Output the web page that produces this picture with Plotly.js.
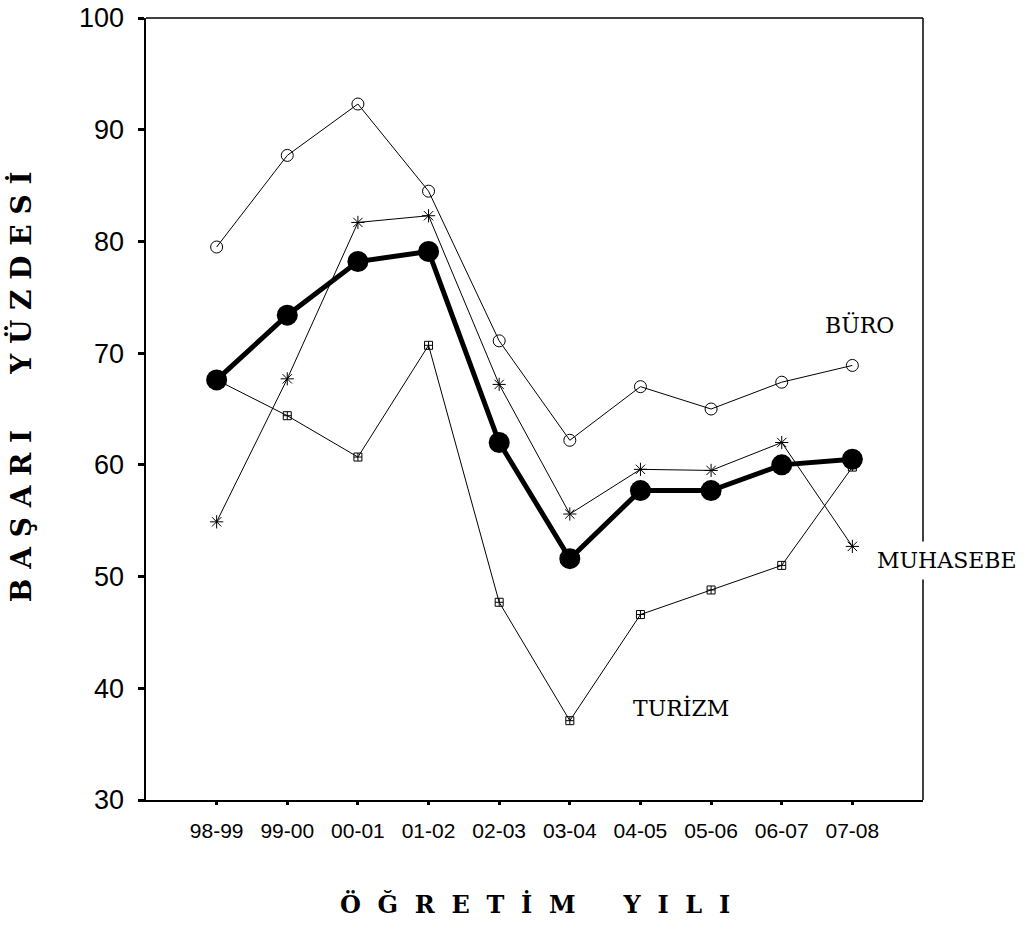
<!DOCTYPE html>
<html>
<head>
<meta charset="utf-8">
<script src="https://cdn.plot.ly/plotly-3.0.1.min.js"></script>
<style>html,body{margin:0;padding:0;background:#fff;}#chart{width:1027px;height:941px;}</style>
</head>
<body>
<div id="chart"></div>
<script>
const years = ["98-99","99-00","00-01","01-02","02-03","03-04","04-05","05-06","06-07","07-08"];
const buro = [79.5, 87.7, 92.3, 84.5, 71.1, 62.2, 67.0, 65.0, 67.4, 68.9];
const muhasebe = [54.9, 67.7, 81.7, 82.3, 67.2, 55.6, 59.6, 59.5, 62.0, 52.7];
const turizm = [67.6, 64.4, 60.7, 70.7, 47.7, 37.1, 46.6, 48.8, 51.0, 59.8];
const genel = [67.6, 73.4, 78.2, 79.1, 62.0, 51.6, 57.7, 57.7, 60.0, 60.5];
const yTicks = [30, 40, 50, 60, 70, 80, 90, 100];

const thin = {color: "#000", width: 1};
const traces = [
  {x: years, y: buro, name: "BÜRO", type: "scatter", mode: "lines+markers",
   line: thin, marker: {symbol: "circle-open", size: 12, color: "#000", line: {width: 1, color: "#000"}}},
  {x: years, y: muhasebe, name: "MUHASEBE", type: "scatter", mode: "lines+markers",
   line: thin, marker: {symbol: "asterisk-open", size: 11, color: "#000", line: {width: 1, color: "#000"}}},
  {x: years, y: turizm, name: "TURİZM", type: "scatter", mode: "lines+markers",
   line: thin, marker: {symbol: "square-cross-open", size: 8, color: "#000", line: {width: 1, color: "#000"}}},
  {x: years, y: genel, name: "GENEL", type: "scatter", mode: "lines+markers",
   line: {color: "#000", width: 5}, marker: {symbol: "circle", size: 21, color: "#000"}}
];

const EM = "\u2003", NB = "\u00A0";
const yTitle = "BAŞARI".split("").join(NB) + EM + EM + "YÜZDESİ".split("").join(NB);
const xTitle = "ÖĞRETİM".split("").join(NB + NB) + EM + EM + "YILI".split("").join(NB + NB);

const serif = "DejaVu Serif, Liberation Serif, serif";
const layout = {
  width: 1027, height: 941,
  margin: {l: 146, r: 104, t: 18, b: 141},
  paper_bgcolor: "#fff", plot_bgcolor: "#fff",
  showlegend: false,
  xaxis: {
    type: "category", range: [-1, 10], showgrid: false, zeroline: false,
    showline: true, linecolor: "#000", linewidth: 2,
    ticks: "outside", ticklen: 3, tickwidth: 3, tickcolor: "#000",
    ticklabelstandoff: 8,
    tickfont: {family: "Liberation Sans Narrow, Arial Narrow, Liberation Sans, sans-serif", size: 21, color: "#000"}
  },
  yaxis: {
    range: [30, 100], tickvals: yTicks, showgrid: false, zeroline: false,
    showline: true, linecolor: "#000", linewidth: 2.5,
    ticks: "outside", ticklen: 6, tickwidth: 3, tickcolor: "#000",
    ticklabelstandoff: 8,
    tickfont: {family: "Liberation Sans, Arial, sans-serif", size: 27, color: "#000"}
  },
  shapes: [
    {type: "line", xref: "paper", yref: "paper", x0: 0, x1: 1, y0: 1, y1: 1, line: {color: "#000", width: 1.5}},
    {type: "line", xref: "paper", yref: "paper", x0: 1, x1: 1, y0: 0, y1: 1, line: {color: "#000", width: 1.5}}
  ],
  annotations: [
    {text: "BÜRO", xref: "x", yref: "y", x: 9.1, y: 72.5, showarrow: false,
     font: {family: serif, size: 22, color: "#000"}},
    {text: "MUHASEBE", xref: "x", yref: "y", x: 9.256, y: 51.4, xanchor: "left", yanchor: "middle", showarrow: false,
     bgcolor: "#fff", borderpad: 6,
     font: {family: serif, size: 22, color: "#000"}},
    {text: "TURİZM", xref: "x", yref: "y", x: 6.58, y: 38.2, showarrow: false,
     font: {family: serif, size: 22, color: "#000"}},
    {text: yTitle, xref: "paper", yref: "paper", x: -0.161, y: 0.529, xanchor: "center", yanchor: "middle",
     textangle: -90, showarrow: false,
     font: {family: "DejaVu Serif, Liberation Serif, serif", size: 28, weight: "bold", color: "#000"}},
    {text: xTitle, xref: "paper", yref: "paper", x: 0.5, y: -0.134, xanchor: "center", yanchor: "middle",
     showarrow: false,
     font: {family: "DejaVu Serif, Liberation Serif, serif", size: 24, weight: "bold", color: "#000"}}
  ]
};

Plotly.newPlot("chart", traces, layout, {displayModeBar: false, staticPlot: true});
</script>
</body>
</html>
